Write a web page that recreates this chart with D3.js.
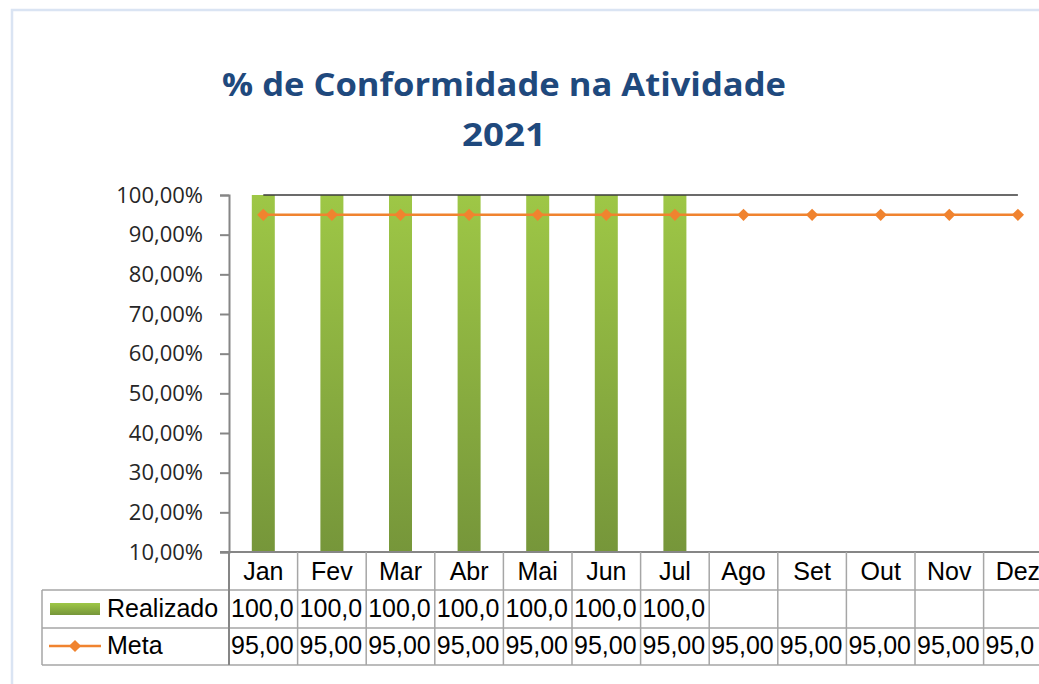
<!DOCTYPE html>
<html>
<head>
<meta charset="utf-8">
<script src="https://cdn.jsdelivr.net/npm/d3@7"></script>
<style>
  body { margin: 0; background: #fff; }
  svg { display: block; }
</style>
</head>
<body>
<div id="chart"></div>
<script>
// dados do grafico
var meses = ["Jan", "Fev", "Mar", "Abr", "Mai", "Jun", "Jul", "Ago", "Set", "Out", "Nov", "Dez"];
var realizado = [100, 100, 100, 100, 100, 100, 100, null, null, null, null, null];
var meta = [95, 95, 95, 95, 95, 95, 95, 95, 95, 95, 95, 95];
var limite = [100, 100, 100, 100, 100, 100, 100, 100, 100, 100, 100, 100];
var yTicks = [10, 20, 30, 40, 50, 60, 70, 80, 90, 100];
var titulo = ["% de Conformidade na Atividade", "2021"];

var W = 1039, H = 684;
var svg = d3.select("#chart").append("svg")
  .attr("width", W)
  .attr("height", H);

var defs = svg.append("defs");
var grad = defs.append("linearGradient")
  .attr("id", "verde")
  .attr("x1", 0).attr("y1", 0).attr("x2", 0).attr("y2", 1);
grad.append("stop").attr("offset", "0%").attr("stop-color", "#9ec746");
grad.append("stop").attr("offset", "100%").attr("stop-color", "#76963a");

// moldura azul clara
svg.append("rect")
  .attr("x", 12).attr("y", 10)
  .attr("width", 1200).attr("height", 1000)
  .attr("fill", "none")
  .attr("stroke", "#dae4f3")
  .attr("stroke-width", 2.5);

// titulo
svg.selectAll(".titulo")
  .data(titulo)
  .enter().append("text")
  .attr("class", "titulo")
  .attr("x", 504)
  .attr("y", function(d, i) { return 96 + i * 50; })
  .attr("text-anchor", "middle")
  .attr("font-family", "'Open Sans', sans-serif")
  .attr("font-weight", "bold")
  .attr("font-size", 33)
  .attr("fill", "#1f497d")
  .attr("textLength", function(d, i) { return i === 0 ? 564 : 84; })
  .attr("lengthAdjust", "spacingAndGlyphs")
  .text(function(d) { return d; });

var colW = 68.6;
var x = d3.scaleBand()
  .domain(meses)
  .range([229, 229 + colW * meses.length])
  .padding(0);

var y = d3.scaleLinear()
  .domain([10, 100])
  .range([552, 195]);

var fmt = function(v) { return d3.format(".2f")(v).replace(".", ",") + "%"; };

// eixo y
var yAxis = svg.append("g")
  .attr("transform", "translate(229,0)")
  .call(d3.axisLeft(y).tickValues(yTicks).tickSize(9).tickPadding(17).tickFormat(fmt));
yAxis.select(".domain").attr("stroke", "#868686").attr("stroke-width", 2);
yAxis.selectAll(".tick line").attr("stroke", "#868686").attr("stroke-width", 2);
yAxis.selectAll(".tick text")
  .attr("font-family", "'Open Sans', sans-serif")
  .attr("font-size", 22)
  .attr("fill", "#262626");

// barras
var barW = 23;
svg.selectAll(".bar")
  .data(meses.map(function(m, i) { return { mes: m, v: realizado[i] }; }).filter(function(d) { return d.v !== null; }))
  .enter().append("rect")
  .attr("class", "bar")
  .attr("x", function(d) { return x(d.mes) + x.bandwidth() / 2 - barW / 2; })
  .attr("y", function(d) { return y(d.v); })
  .attr("width", barW)
  .attr("height", function(d) { return y(10) - y(d.v); })
  .attr("fill", "url(#verde)");

var cx = function(m) { return x(m) + x.bandwidth() / 2; };

// linha de 100%
svg.append("path")
  .datum(limite)
  .attr("fill", "none")
  .attr("stroke", "#3a3a3a")
  .attr("stroke-width", 1.5)
  .attr("d", d3.line().x(function(d, i) { return cx(meses[i]); }).y(function(d) { return y(d); }));

// linha meta
svg.append("path")
  .datum(meta)
  .attr("fill", "none")
  .attr("stroke", "#f0832f")
  .attr("stroke-width", 2.5)
  .attr("d", d3.line().x(function(d, i) { return cx(meses[i]); }).y(function(d) { return y(d); }));

var diamond = d3.symbol().type(d3.symbolDiamond2).size(95);
svg.selectAll(".marker")
  .data(meta)
  .enter().append("path")
  .attr("class", "marker")
  .attr("transform", function(d, i) { return "translate(" + cx(meses[i]) + "," + y(d) + ")"; })
  .attr("d", diamond)
  .attr("fill", "#f0832f");

// tabela de dados
var rowY = [552, 590, 628, 665];
var gridColor = "#a6a6a6";
var tab = svg.append("g");
var xEnd = x.range()[1];

tab.append("line")
  .attr("x1", 220).attr("x2", xEnd).attr("y1", rowY[0]).attr("y2", rowY[0])
  .attr("stroke", "#868686").attr("stroke-width", 2);
tab.selectAll(".hline")
  .data(rowY.slice(1))
  .enter().append("line")
  .attr("x1", 42).attr("x2", xEnd)
  .attr("y1", function(d) { return d; }).attr("y2", function(d) { return d; })
  .attr("stroke", gridColor).attr("stroke-width", 1.5);
tab.append("line")
  .attr("x1", 42).attr("x2", 42).attr("y1", rowY[1]).attr("y2", rowY[3])
  .attr("stroke", gridColor).attr("stroke-width", 1.5);
tab.selectAll(".vline")
  .data(meses.concat(["fim"]))
  .enter().append("line")
  .attr("x1", function(d, i) { return 229 + i * x.step(); })
  .attr("x2", function(d, i) { return 229 + i * x.step(); })
  .attr("y1", rowY[0]).attr("y2", rowY[3])
  .attr("stroke", function(d, i) { return i === 0 ? "#868686" : gridColor; })
  .attr("stroke-width", function(d, i) { return i === 0 ? 2 : 1.5; });

var tFont = "'Liberation Sans', Arial, sans-serif";
var tSize = 25;

// corta o texto como o Excel faz quando nao cabe na celula
function cortar(sel) {
  sel.each(function(d, i) {
    var t = d3.select(this);
    var left = x(meses[i]);
    var avail = Math.min(left + x.bandwidth(), W) - left - 3;
    var s = t.text();
    while (s.length > 0 && this.getComputedTextLength() > avail) {
      s = s.slice(0, -1);
      t.text(s);
    }
  });
}

tab.selectAll(".mes")
  .data(meses)
  .enter().append("text")
  .attr("x", function(d) { return cx(d); })
  .attr("y", 580)
  .attr("text-anchor", "middle")
  .attr("font-family", tFont).attr("font-size", tSize)
  .text(function(d) { return d; });

tab.selectAll(".vreal")
  .data(realizado)
  .enter().append("text")
  .attr("x", function(d, i) { return x(meses[i]) + 2; })
  .attr("y", 617)
  .attr("font-family", tFont).attr("font-size", tSize)
  .text(function(d) { return d === null ? "" : fmt(d); })
  .call(cortar);

tab.selectAll(".vmeta")
  .data(meta)
  .enter().append("text")
  .attr("x", function(d, i) { return x(meses[i]) + 2; })
  .attr("y", 654)
  .attr("font-family", tFont).attr("font-size", tSize)
  .text(function(d) { return fmt(d); })
  .call(cortar);

// legenda
tab.append("rect")
  .attr("x", 50).attr("y", 603).attr("width", 50).attr("height", 12)
  .attr("fill", "url(#verde)");
tab.append("line")
  .attr("x1", 49).attr("x2", 101).attr("y1", 646).attr("y2", 646)
  .attr("stroke", "#f0832f").attr("stroke-width", 2.5);
tab.append("path")
  .attr("transform", "translate(75,646)")
  .attr("d", diamond)
  .attr("fill", "#f0832f");
tab.selectAll(".leg")
  .data(["Realizado", "Meta"])
  .enter().append("text")
  .attr("x", 107)
  .attr("y", function(d, i) { return i === 0 ? 617 : 654; })
  .attr("font-family", tFont).attr("font-size", tSize)
  .text(function(d) { return d; });
</script>
</body>
</html>
